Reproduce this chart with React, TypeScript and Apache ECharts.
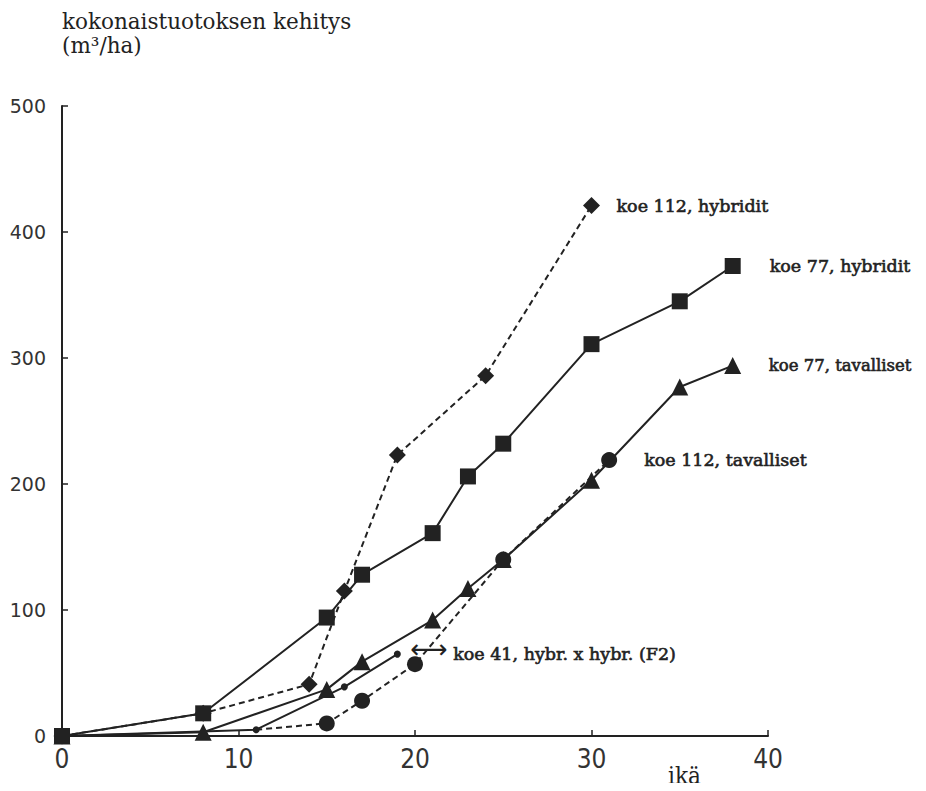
import React, { useEffect, useRef } from "react";
import * as echarts from "echarts";

// Age (years) and total yield (m³/ha) per trial
const koe112HybAge = [0, 8, 14, 16, 19, 24, 30];
const koe112HybVol = [0, 18, 41, 115, 223, 286, 421];

const koe77HybAge = [0, 8, 15, 17, 21, 23, 25, 30, 35, 38];
const koe77HybVol = [0, 18, 94, 128, 161, 206, 232, 311, 345, 373];

const koe77TavAge = [0, 8, 15, 17, 21, 23, 25, 30, 35, 38];
const koe77TavVol = [0, 3, 37, 59, 92, 117, 140, 203, 277, 294];

const koe112TavAge = [11, 15, 17, 20, 25, 31];
const koe112TavVol = [5, 10, 28, 57, 140, 219];

const koe41Age = [0, 11, 16, 19];
const koe41Vol = [0, 5, 39, 65];

const xTicks = [0, 10, 20, 30, 40];
const yTicks = [0, 100, 200, 300, 400, 500];

const INK = "#222";
const LABEL_FONT = "'DejaVu Serif', serif";

const pairs = (xs: number[], ys: number[]) => xs.map((x, i) => [x, ys[i]]);

export default function App() {
  const ref = useRef<HTMLDivElement>(null);

  useEffect(() => {
    if (!ref.current) return;
    const chart = echarts.init(ref.current, undefined, { renderer: "svg" });

    const endLabel = (text: string, distance: number, extra: any = {}) => ({
      show: true,
      formatter: () => text,
      distance,
      color: INK,
      fontFamily: LABEL_FONT,
      fontSize: 17.5,
      fontWeight: "normal",
      textBorderColor: INK,
      textBorderWidth: 0.6,
      ...extra,
    });

    const lineSeries = (
      name: string,
      data: any[],
      symbol: string,
      symbolSize: number,
      dashed: boolean,
      label: any,
      z: number
    ) => ({
      name,
      type: "line",
      data,
      symbol,
      symbolSize,
      showAllSymbol: true,
      z,
      lineStyle: { color: INK, width: 2, type: dashed ? [6, 4] : "solid" },
      itemStyle: { color: INK, borderWidth: 0 },
      endLabel: label,
      emphasis: { disabled: true },
    });

    const circleData: any[] = pairs(koe112TavAge, koe112TavVol);
    circleData[0] = { value: circleData[0], symbol: "none" };

    const koe41Data: any[] = pairs(koe41Age, koe41Vol);
    koe41Data[0] = { value: koe41Data[0], symbol: "none" };

    chart.setOption({
      animation: false,
      backgroundColor: "#fff",
      title: {
        text: "kokonaistuotoksen kehitys\n(m³/ha)",
        left: 57,
        top: 4,
        textStyle: {
          fontFamily: LABEL_FONT,
          fontSize: 21.5,
          fontWeight: "normal",
          color: INK,
          lineHeight: 24,
        },
      },
      grid: { left: 62, right: 158, top: 106, bottom: 55 },
      xAxis: {
        type: "value",
        min: 0,
        max: 40,
        interval: 10,
        axisLine: { show: true, onZero: false, lineStyle: { color: INK, width: 2 } },
        axisTick: { show: true, inside: true, length: 6, lineStyle: { color: INK, width: 1.5 } },
        splitLine: { show: false },
        axisLabel: {
          color: "#333",
          fontFamily: "'Liberation Sans Narrow', 'DejaVu Sans Condensed', sans-serif",
          fontSize: 26,
          margin: 10,
          formatter: (v: number) => (xTicks.includes(v) ? String(v) : ""),
        },
      },
      yAxis: {
        type: "value",
        min: 0,
        max: 500,
        interval: 100,
        axisLine: { show: true, lineStyle: { color: INK, width: 2 } },
        axisTick: { show: true, inside: true, length: 6, lineStyle: { color: INK, width: 1.5 } },
        splitLine: { show: false },
        axisLabel: {
          color: "#333",
          fontFamily: "'DejaVu Sans', sans-serif",
          fontSize: 19,
          margin: 16,
          formatter: (v: number) => (yTicks.includes(v) ? String(v) : ""),
        },
      },
      graphic: [
        {
          type: "text",
          left: 668,
          top: 764,
          style: {
            text: "ikä",
            fill: INK,
            font: "24px 'DejaVu Serif Condensed', 'DejaVu Serif', serif",
          },
        },
      ],
      series: [
        lineSeries(
          "koe 112, hybridit",
          pairs(koe112HybAge, koe112HybVol),
          "diamond",
          17,
          true,
          endLabel("koe 112, hybridit", 25),
          3
        ),
        lineSeries(
          "koe 112, tavalliset",
          circleData,
          "circle",
          16,
          true,
          endLabel("koe 112, tavalliset", 35),
          4
        ),
        lineSeries(
          "koe 41, hybr. x hybr. (F2)",
          koe41Data,
          "circle",
          7,
          false,
          endLabel("{arr|⟷} koe 41, hybr. x hybr. (F2)", 13, {
            rich: {
              arr: {
                fontSize: 26,
                fontFamily: "'DejaVu Sans', sans-serif",
                color: INK,
                textBorderWidth: 0,
                padding: [0, 0, 10, 0],
              },
            },
          }),
          4
        ),
        lineSeries(
          "koe 77, tavalliset",
          pairs(koe77TavAge, koe77TavVol),
          "triangle",
          17,
          false,
          endLabel("koe 77, tavalliset", 36, { fontSize: 16.5 }),
          5
        ),
        lineSeries(
          "koe 77, hybridit",
          pairs(koe77HybAge, koe77HybVol),
          "rect",
          16,
          false,
          endLabel("koe 77, hybridit", 37),
          6
        ),
      ],
    });

    return () => chart.dispose();
  }, []);

  return <div ref={ref} style={{ width: 926, height: 791, margin: -8 }} />;
}
